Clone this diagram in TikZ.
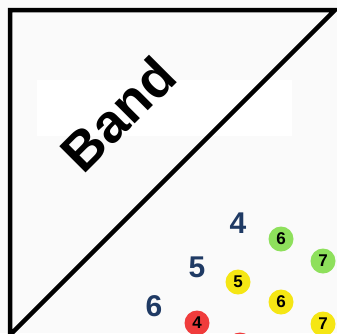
\documentclass[tikz,border=0pt]{standalone}
\usepackage{fontspec}
\setmainfont{Liberation Sans}
\definecolor{bg}{HTML}{FAFAFA}
\definecolor{navy}{HTML}{1F3A64}
\definecolor{cyel}{HTML}{F5E614}
\definecolor{cgrn}{HTML}{8EE05C}
\definecolor{cred}{HTML}{F03C3C}
\begin{document}
\begin{tikzpicture}[x=1pt,y=-1pt,
  dot/.style={circle,minimum size=25pt,inner sep=0pt,font=\fontsize{17}{17}\selectfont\bfseries,text=black},
  big/.style={font=\fontsize{30}{30}\selectfont\bfseries,text=navy,inner sep=0pt}]
\useasboundingbox (0,0) rectangle (337,333);
\clip (0,0) rectangle (337,333);
\fill[bg] (0,0) rectangle (337,333);
\fill[white] (37,80) rectangle (292,136);
\draw[line width=4.5pt,line join=miter] (335,10) -- (10,10) -- (10,335) -- cycle;
\node[rotate=45,font=\fontsize{54}{54}\selectfont\bfseries,inner sep=0pt] (band) at (118,114) {Band};
\node[big] (n4) at (238,223) {4};
\node[big] (n5) at (197,267) {5};
\node[big] (n6) at (154,306) {6};
\node[dot,fill=cgrn] (g6) at (281,239) {6};
\node[dot,fill=cgrn] (g7) at (323,261) {7};
\node[dot,fill=cyel] (y5) at (238,282) {5};
\node[dot,fill=cyel] (y6) at (281,302) {6};
\node[dot,fill=cyel] (y7) at (323,324) {7};
\node[dot,fill=cred] (r4) at (197,323) {4};
\node[dot,fill=cred] (r5) at (240,345) {};
\end{tikzpicture}
\end{document}
